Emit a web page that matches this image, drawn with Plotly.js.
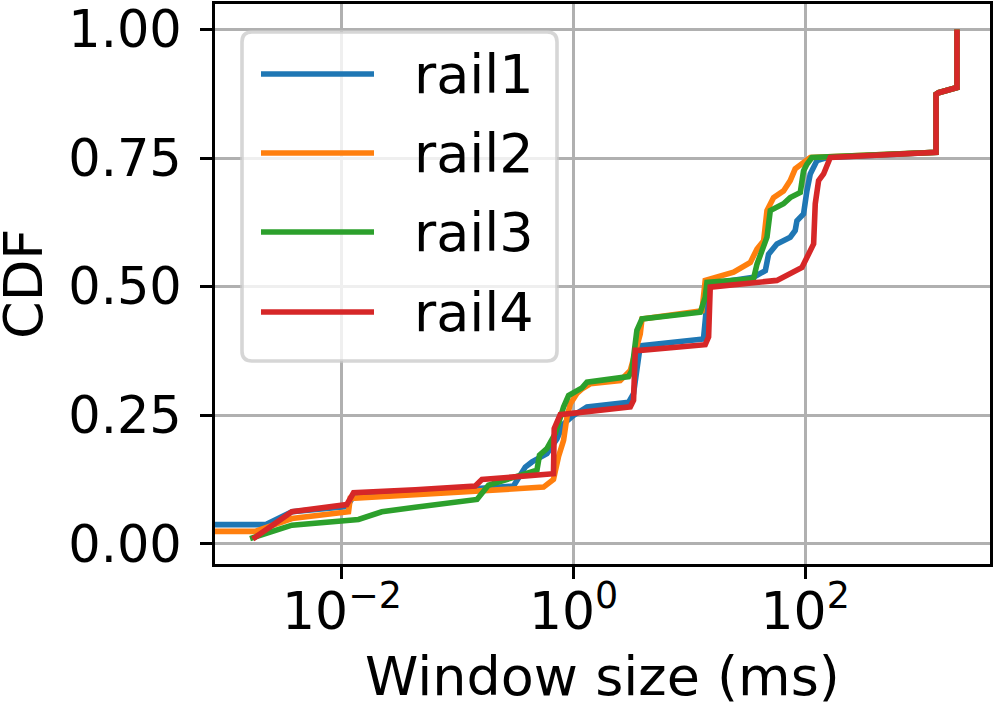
<!DOCTYPE html>
<html>
<head>
<meta charset="utf-8">
<script src="https://cdn.plot.ly/plotly-3.0.1.min.js"></script>
<style>
  html, body { margin: 0; padding: 0; background: #fff; }
  #chart { width: 996px; height: 708px; }
</style>
</head>
<body>
<div id="chart"></div>
<script>
// series names and colours (matplotlib tab10)
const names = ["rail1", "rail2", "rail3", "rail4"];
const colors = ["#1f77b4", "#ff7f0e", "#2ca02c", "#d62728"];

// window size (ms) and CDF
const rail1X = [0.0001, 0.00218, 0.0037, 0.0110, 0.0126, 0.0318, 0.303, 0.383, 0.438, 0.589, 0.719, 0.820, 1.0, 1.306, 2.985, 3.296, 3.767, 13.24, 13.71, 14.19, 14.66, 35.8, 45.3, 48.3, 57.0, 74.3, 82.0, 84.9, 96.8, 103.5, 110.7, 126.5, 154.2, 1349, 1349, 1419, 2046, 2046];
const rail1Y = [0.037, 0.037, 0.062, 0.072, 0.092, 0.097, 0.112, 0.149, 0.159, 0.175, 0.204, 0.233, 0.2495, 0.266, 0.275, 0.292, 0.385, 0.398, 0.434, 0.492, 0.505, 0.518, 0.531, 0.563, 0.583, 0.596, 0.609, 0.628, 0.641, 0.686, 0.719, 0.745, 0.751, 0.761, 0.874, 0.877, 0.887, 1.0];

const rail2X = [0.0001, 0.00178, 0.0037, 0.0114, 0.0118, 0.551, 0.671, 0.741, 0.820, 0.877, 0.938, 1.069, 1.183, 1.393, 2.529, 3.090, 3.767, 3.899, 12.85, 13.71, 24.1, 33.6, 38.4, 43.8, 46.8, 53.3, 65.0, 74.3, 82.0, 96.8, 110.7, 1349, 1349, 1419, 2046, 2046];
const rail2Y = [0.024, 0.024, 0.049, 0.062, 0.088, 0.110, 0.125, 0.169, 0.201, 0.246, 0.272, 0.292, 0.301, 0.311, 0.317, 0.337, 0.408, 0.437, 0.453, 0.512, 0.528, 0.547, 0.573, 0.589, 0.648, 0.673, 0.686, 0.706, 0.729, 0.741, 0.751, 0.761, 0.874, 0.877, 0.887, 1.0];

const rail3X = [0.00161, 0.0037, 0.0139, 0.0221, 0.0430, 0.1466, 0.1845, 0.483, 0.508, 0.589, 0.695, 0.820, 0.906, 1.183, 1.306, 2.985, 3.192, 3.524, 3.899, 12.42, 13.71, 14.19, 35.8, 38.4, 46.8, 50.0, 65.0, 74.3, 90.8, 96.8, 103.5, 114.6, 1349, 1349, 1419, 2046, 2046];
const rail3Y = [0.010, 0.036, 0.047, 0.062, 0.071, 0.086, 0.114, 0.143, 0.172, 0.185, 0.214, 0.266, 0.288, 0.303, 0.314, 0.325, 0.337, 0.415, 0.437, 0.450, 0.479, 0.508, 0.515, 0.544, 0.596, 0.648, 0.661, 0.673, 0.683, 0.725, 0.738, 0.751, 0.761, 0.874, 0.877, 0.887, 1.0];

const rail4X = [0.0017, 0.0037, 0.0110, 0.0126, 0.0430, 0.1416, 0.1618, 0.671, 0.681, 0.757, 0.767, 3.090, 3.296, 3.412, 3.767, 13.71, 14.66, 15.14, 57.0, 93.8, 118.3, 122.2, 130.6, 144.2, 159.2, 164.8, 1349, 1349, 1419, 2046, 2046];
const rail4Y = [0.009, 0.062, 0.076, 0.099, 0.105, 0.112, 0.125, 0.136, 0.224, 0.2495, 0.251, 0.266, 0.279, 0.376, 0.376, 0.387, 0.402, 0.499, 0.512, 0.537, 0.583, 0.661, 0.706, 0.719, 0.741, 0.751, 0.761, 0.874, 0.877, 0.887, 1.0];

const xTickVals = [0.01, 1, 100];
const xTickText = ["10<sup>\u22122</sup>", "10<sup>0</sup>", "10<sup>2</sup>"];
const yTickVals = [0, 0.25, 0.5, 0.75, 1];

const xs = [rail1X, rail2X, rail3X, rail4X];
const ys = [rail1Y, rail2Y, rail3Y, rail4Y];

const traces = names.map((n, i) => ({
  x: xs[i],
  y: ys[i],
  type: "scatter",
  mode: "lines",
  name: n,
  line: { color: colors[i], width: 5.6 },
  hoverinfo: "skip",
}));

// plot area in pixels (used for the hand made legend)
const M = { l: 215, r: 6, t: 4, b: 144 };
const PW = 996 - M.l - M.r;
const PH = 708 - M.t - M.b;
const px = (p) => (p - M.l) / PW;
const py = (p) => (708 - M.b - p) / PH;

// legend box with rounded corners
const bx0 = px(242), bx1 = px(557), by0 = py(32), by1 = py(361);
const rx = 10 / PW, ry = 10 / PH;
const boxPath =
  `M ${bx0 + rx},${by0} L ${bx1 - rx},${by0} Q ${bx1},${by0} ${bx1},${by0 - ry} ` +
  `L ${bx1},${by1 + ry} Q ${bx1},${by1} ${bx1 - rx},${by1} ` +
  `L ${bx0 + rx},${by1} Q ${bx0},${by1} ${bx0},${by1 + ry} ` +
  `L ${bx0},${by0 - ry} Q ${bx0},${by0} ${bx0 + rx},${by0} Z`;

const shapes = [
  {
    type: "path",
    xref: "paper",
    yref: "paper",
    path: boxPath,
    fillcolor: "rgba(255,255,255,0.8)",
    line: { color: "rgba(204,204,204,0.8)", width: 3.6 },
    layer: "above",
  },
];

// y axis title, set as an annotation so it can sit at the far left
const annotations = [
  {
    xref: "paper",
    yref: "paper",
    x: px(23),
    y: py(284),
    xanchor: "center",
    yanchor: "middle",
    textangle: -90,
    text: "CDF",
    showarrow: false,
    font: { size: 54, color: "#000" },
  },
];
const rowY = [74, 153, 232, 312];
names.forEach((n, i) => {
  shapes.push({
    type: "line",
    xref: "paper",
    yref: "paper",
    x0: px(261),
    x1: px(374),
    y0: py(rowY[i]),
    y1: py(rowY[i]),
    line: { color: colors[i], width: 5.6 },
    layer: "above",
  });
  annotations.push({
    xref: "paper",
    yref: "paper",
    x: px(412),
    y: py(rowY[i]),
    xanchor: "left",
    yanchor: "middle",
    text: n,
    showarrow: false,
    font: { size: 54, color: "#000" },
  });
});

const layout = {
  width: 996,
  height: 708,
  margin: M,
  paper_bgcolor: "#fff",
  plot_bgcolor: "#fff",
  font: { family: "DejaVu Sans", color: "#000" },
  showlegend: false,
  xaxis: {
    type: "log",
    range: [-3.096, 3.596],
    tickvals: xTickVals,
    ticktext: xTickText,
    tickfont: { size: 52 },
    ticklabelstandoff: -12,
    ticks: "outside",
    ticklen: 12,
    tickwidth: 3,
    tickcolor: "#000",
    showgrid: true,
    gridcolor: "#b0b0b0",
    gridwidth: 3,
    showline: true,
    mirror: true,
    linecolor: "#000",
    linewidth: 3,
    zeroline: false,
    automargin: false,
    title: { text: "Window size (ms)", font: { size: 54 }, standoff: 22 },
  },
  yaxis: {
    range: [-0.0395, 1.0495],
    tickvals: yTickVals,
    tickformat: ".2f",
    tickfont: { size: 51 },
    ticklabelstandoff: 8,
    ticks: "outside",
    ticklen: 12,
    tickwidth: 3,
    tickcolor: "#000",
    showgrid: true,
    gridcolor: "#b0b0b0",
    gridwidth: 3,
    showline: true,
    mirror: true,
    linecolor: "#000",
    linewidth: 3,
    zeroline: false,
    automargin: false,
  },
  shapes: shapes,
  annotations: annotations,
};

Plotly.newPlot("chart", traces, layout, { displayModeBar: false, staticPlot: true });
</script>
</body>
</html>
